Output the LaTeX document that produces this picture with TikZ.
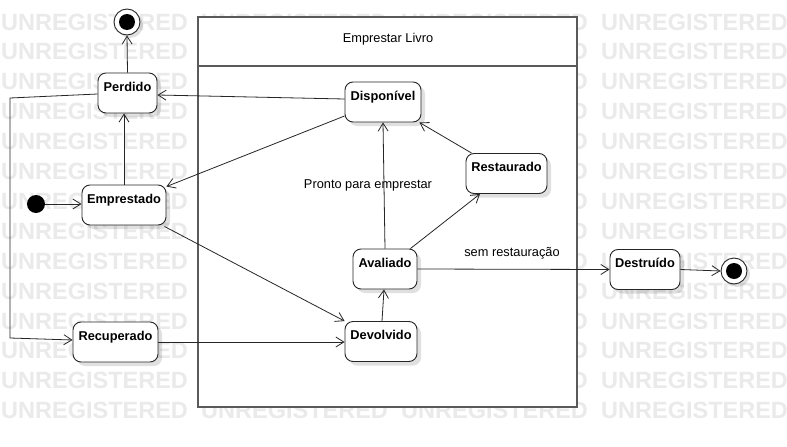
\documentclass[tikz,border=0pt]{standalone}
\usepackage{fontspec}
\setmainfont{Liberation Sans}
\usetikzlibrary{arrows.meta,calc,shadows}
\definecolor{wm}{RGB}{234,234,234}
\definecolor{frame}{RGB}{90,90,90}
\tikzset{
  stbox/.style={draw=black!85, rounded corners=8pt, fill=white, line width=0.9pt,
    inner xsep=2pt, inner ysep=0pt, text height=18pt, text depth=22pt,
    font=\bfseries\fontsize{12.8}{14}\selectfont,
    drop shadow={shadow xshift=4pt, shadow yshift=-4pt, opacity=0.12, fill=black}},
  trans/.style={draw=black!85, line width=0.8pt, -{Straight Barb[length=8pt,width=10pt]}},
  lbl/.style={font=\fontsize{12.8}{14}\selectfont, inner sep=1pt},
  wmark/.style={text=wm, font=\bfseries\fontsize{23.5}{24}\selectfont, anchor=west, inner sep=0pt}
}
\begin{document}
\begin{tikzpicture}[x=1pt,y=-1pt]
\useasboundingbox (0,0) rectangle (787,447);
\clip (0,0) rectangle (787,447);
\fill[white] (0,0) rectangle (787,447);
% watermark
\foreach \r in {0,...,13}{
  \foreach \c in {0,1,2,3}{
    \node[wmark] (wm-\r-\c) at ({1+200*\c},{22+29.9*\r}) {UNREGISTERED};
  }
}
% composite state
\draw[frame, fill=white, line width=1.3pt] (198,17) rectangle (577,407);
\draw[frame, line width=1.3pt] (198,66) -- (577,66);
\node[lbl] (title) at (388,39) {Emprestar Livro};
% pseudo states
\fill[black] (36,204) circle (9pt);
\coordinate (init) at (36,204);
\node[circle, draw=black!85, fill=white, line width=0.9pt, minimum size=26pt, inner sep=0pt,
  drop shadow={shadow xshift=3pt, shadow yshift=-3pt, opacity=0.12, fill=black}] (fin1) at (127,22) {};
\fill[black] (fin1) circle (8pt);
\node[circle, draw=black!85, fill=white, line width=0.9pt, minimum size=26pt, inner sep=0pt,
  drop shadow={shadow xshift=3pt, shadow yshift=-3pt, opacity=0.12, fill=black}] (fin2) at (734,271) {};
\fill[black] (fin2) circle (8pt);
% states
\node[stbox, minimum width=59pt] (perd) at (127.5,93) {Perdido};
\node[stbox, minimum width=84pt] (empr) at (124,205) {Emprestado};
\node[stbox, minimum width=76pt] (disp) at (383,102) {Disponível};
\node[stbox, minimum width=81pt] (rest) at (506.5,173.5) {Restaurado};
\node[stbox, minimum width=64pt] (aval) at (385,269) {Avaliado};
\node[stbox, minimum width=72pt] (devo) at (381,341.5) {Devolvido};
\node[stbox, minimum width=70pt] (dest) at (645,269.5) {Destruído};
\node[stbox, minimum width=85pt] (recu) at (115.5,342) {Recuperado};
% transitions
\draw[trans] (perd.north) -- (fin1.south);
\draw[trans] (empr.north) -- (empr.north |- perd.south);
\draw[trans] (init) ++(9,0) -- (init -| empr.west);
\draw[trans] ($(disp.west)+(0,-3)$) -- ($(perd.east)+(0,2)$);
\draw[trans] ($(disp.west)+(0,14)$) -- ($(empr.north east)+(0,2)$);
\draw[trans] ($(empr.south east)+(-2,1)$) -- (devo.north west);
\draw[trans] ($(perd.west)+(0,1)$) -- (10,98) -- (10,338) -- ($(recu.west)+(0,-2)$);
\draw[trans] (recu.east) -- (recu.east -| devo.west);
\draw[trans] ($(devo.north)+(1,0)$) -- ($(aval.south)+(-1,0)$);
\draw[trans] (aval.north) -- (disp.south);
\draw[trans] ($(aval.north east)+(-7,0)$) -- ($(rest.south)+(-26.5,0)$);
\draw[trans] ($(rest.north west)+(6,0)$) -- ($(disp.south east)+(-2,0)$);
\draw[trans] (aval.east) -- (dest.west);
\draw[trans] (dest.east) -- (fin2.west);
% labels
\node[lbl] (l1) at (368,185) {Pronto para emprestar};
\node[lbl] (l2) at (512,253) {sem restauração};
\end{tikzpicture}
\end{document}
